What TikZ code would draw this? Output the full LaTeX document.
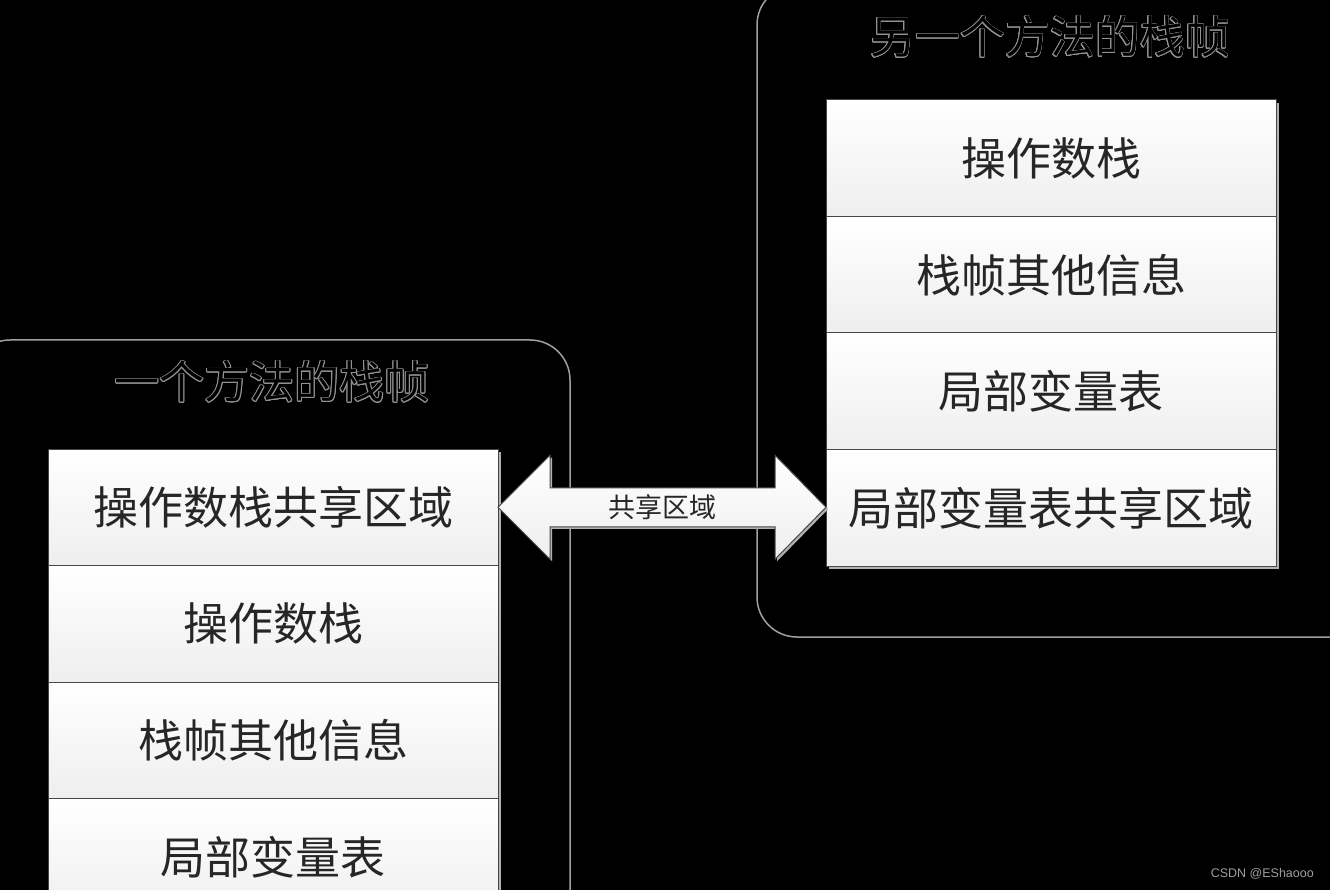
\documentclass[tikz,border=0pt]{standalone}
\usepackage{fontspec}
\newfontfamily\cjk{Noto Sans CJK SC}
\newfontfamily\wmfont{Liberation Sans}
\usepackage{contour}
\contourlength{0.7pt}
\usetikzlibrary{calc,shadows}
\begin{document}
\begin{tikzpicture}[x=1pt,y=-1pt,
  frame/.style={draw=gray!75, line width=1.5pt, rounded corners=40pt},
  cell/.style={draw=gray!55!black, line width=1pt, top color=white, bottom color=gray!13,
    minimum width=450pt, minimum height=116.5pt, inner sep=0pt, outer sep=0pt, anchor=north west,
    font=\cjk\fontsize{45}{45}\selectfont, text=black!85,
    drop shadow={shadow xshift=3pt, shadow yshift=-3pt, fill=gray!60, opacity=1}},
  titletext/.style={font=\cjk\fontsize{45}{45}\selectfont, inner sep=0pt, text=black},
  arrowshape/.style={draw=gray!55!black, line width=1pt, top color=white, bottom color=gray!13},
  arrowlabel/.style={font=\cjk\fontsize{27}{27}\selectfont, text=black!85, inner sep=0pt}]
\useasboundingbox (0,0) rectangle (1330,890);
\fill[black] (0,0) rectangle (1330,890);
\clip (0,0) rectangle (1330,890);

% containers
\draw[frame] (-30,340) rectangle (570,960);
\draw[frame] (757,-15) rectangle (1370,637);

% titles
\node[titletext] (t1) at (272,382) {\contour{gray!85}{一个方法的栈帧}};
\node[titletext] (t2) at (1050,37) {\contour{gray!85}{另一个方法的栈帧}};

% left column
\node[cell] (l1) at (48,449) {操作数栈共享区域};
\node[cell] (l2) at (l1.south west) {操作数栈};
\node[cell] (l3) at (l2.south west) {栈帧其他信息};
\node[cell] (l4) at (l3.south west) {局部变量表};

% right column
\node[cell] (r1) at (826,100) {操作数栈};
\node[cell] (r2) at (r1.south west) {栈帧其他信息};
\node[cell] (r3) at (r2.south west) {局部变量表};
\node[cell] (r4) at (r3.south west) {局部变量表共享区域};

% double arrow
\coordinate (L) at (l1.east);
\coordinate (R) at (r4.west |- l1.east);
\fill[gray!60] ($(L)+(2,2)$) -- ($(L)+(54,-50)$) -- ($(L)+(54,-17.5)$) -- ($(R)+(-49,-17.5)$) -- ($(R)+(-49,-50)$) -- ($(R)+(2,2)$) -- ($(R)+(-49,54)$) -- ($(R)+(-49,21.5)$) -- ($(L)+(54,21.5)$) -- ($(L)+(54,54)$) -- cycle;
\path[arrowshape] (L) -- ($(L)+(52,-52)$) -- ($(L)+(52,-19.5)$) -- ($(R)+(-51,-19.5)$) -- ($(R)+(-51,-52)$) -- (R) -- ($(R)+(-51,52)$) -- ($(R)+(-51,19.5)$) -- ($(L)+(52,19.5)$) -- ($(L)+(52,52)$) -- cycle;
\node[arrowlabel] (sh) at ($(L)!0.5!(R)$) {共享区域};

% watermark
\node[font=\wmfont\fontsize{12.5}{12.5}\selectfont, text=gray!75, anchor=east, inner sep=0pt] (wm) at (1314,874) {CSDN @EShaooo};
\end{tikzpicture}
\end{document}
